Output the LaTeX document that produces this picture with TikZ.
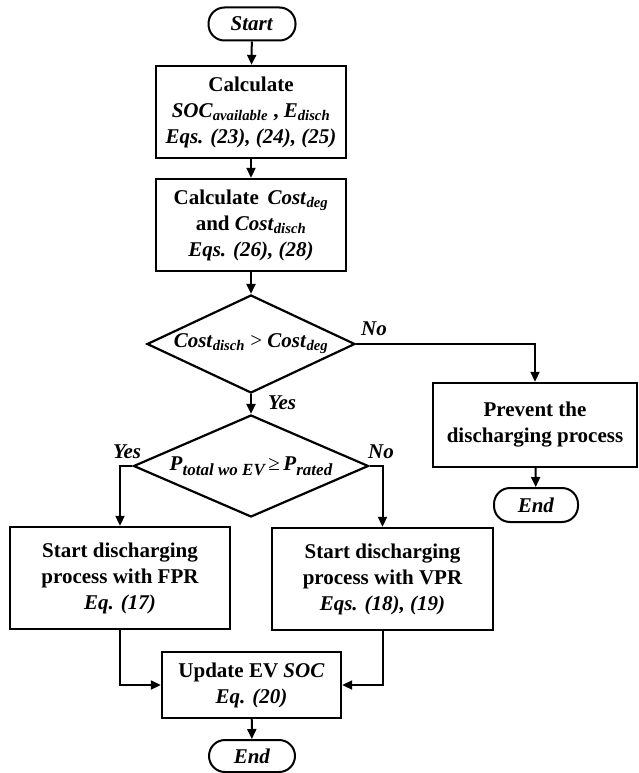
\documentclass[tikz,border=0pt]{standalone}
\usepackage{fontspec}
\setmainfont{Liberation Serif}
\usetikzlibrary{arrows.meta,shapes.geometric}
\newcommand{\sub}[1]{\textsubscript{\textit{#1}}}

\begin{document}
\begin{tikzpicture}[x = 1pt, y = -1pt,
	box/.style={draw, line width=2.4pt, align=center, inner sep=0pt},
	term/.style={draw, line width=2pt, rounded corners=16pt, inner sep=0pt},
	decision/.style={draw, diamond, line width=2.2pt, inner sep=0pt, align=center},
	flow/.style={->, line width=2pt, >={Triangle[length=10pt, width=9pt]}},
	lbl/.style={font=\fontsize{21}{21}\selectfont\bfseries\itshape},
	every node/.style={font=\fontsize{21}{26}\selectfont\bfseries, text=black}
	]
	\useasboundingbox (0,0) rectangle (638,773);
	
	% Terminals
	\node[term, minimum width=87pt, minimum height=33pt] (start) at (252,24) {\textit{Start}};
	\node[term, minimum width=84pt, minimum height=34pt] (end1) at (536,505) {\textit{End}};
	\node[term, minimum width=86pt, minimum height=32pt] (end2) at (252,756) {\textit{End}};
	
	% Process boxes
	\node[box, minimum width=190pt, minimum height=92pt] (calc1) at (251,112)
	{Calculate\\ \textit{SOC}\sub{available} , \textit{E}\sub{disch}\\ \textit{Eqs. (23), (24), (25)}};
	\node[box, minimum width=190pt, minimum height=92pt] (calc2) at (251,225)
	{Calculate \,\textit{Cost}\sub{deg}\\ and \textit{Cost}\sub{disch}\\ \textit{Eqs. (26), (28)}};
	\node[box, minimum width=204pt, minimum height=84pt] (prevent) at (535,425)
	{Prevent the\\ discharging process};
	\node[box, minimum width=220pt, minimum height=102pt] (fpr) at (120,578)
	{Start discharging\\ process with FPR\\ \textit{Eq. (17)}};
	\node[box, minimum width=221pt, minimum height=102pt] (vpr) at (382.5,579)
	{Start discharging\\ process with VPR\\ \textit{Eqs. (18), (19)}};
	\node[box, minimum width=179pt, minimum height=66pt] (update) at (251.5,685)
	{Update EV \textit{SOC}\\ \textit{Eq. (20)}};
	
	% Decisions
	\node[decision, minimum width=208pt, minimum height=98pt, aspect=2.12] (cmp) at (251,344)
	{\textit{Cost}\sub{disch} {\mdseries >} \textit{Cost}\sub{deg}};
	\node[decision, minimum width=235pt, minimum height=102pt, aspect=2.3] (check) at (251,466)
	{\textit{P}{\fontsize{17}{17}\selectfont\textit{\raisebox{-5pt}{total wo EV}}}\,{\mdseries\char"2265}\,\textit{P}{\fontsize{17}{17}\selectfont\textit{\raisebox{-5pt}{rated}}}};
	
	% Main column
	\draw[flow] (start) -- (calc1);
	\draw[flow] (calc1) -- (calc2);
	\draw[flow] (calc2) -- (cmp);
	\draw[flow] (cmp) -- (check);
	\node[lbl] (yes1) at (282,403) {Yes};
	
	% No branch of the cost test
	\draw[flow] (cmp.east) -| (prevent.north);
	\node[lbl] (no1) at (374,329) {No};
	\draw[flow] (prevent) -- (end1);
	
	% Branches of the power test
	\draw[flow] (check.west) -| (fpr.north);
	\draw[flow] (check.east) -| (vpr.north);
	\node[lbl] (yes2) at (127,452) {Yes};
	\node[lbl] (no2) at (381,452) {No};
	
	% Merge
	\draw[flow] (fpr.south) |- (update.west);
	\draw[flow] (vpr.south) |- (update.east);
	\draw[flow] (update) -- (end2);
	
\end{tikzpicture}
\end{document}
